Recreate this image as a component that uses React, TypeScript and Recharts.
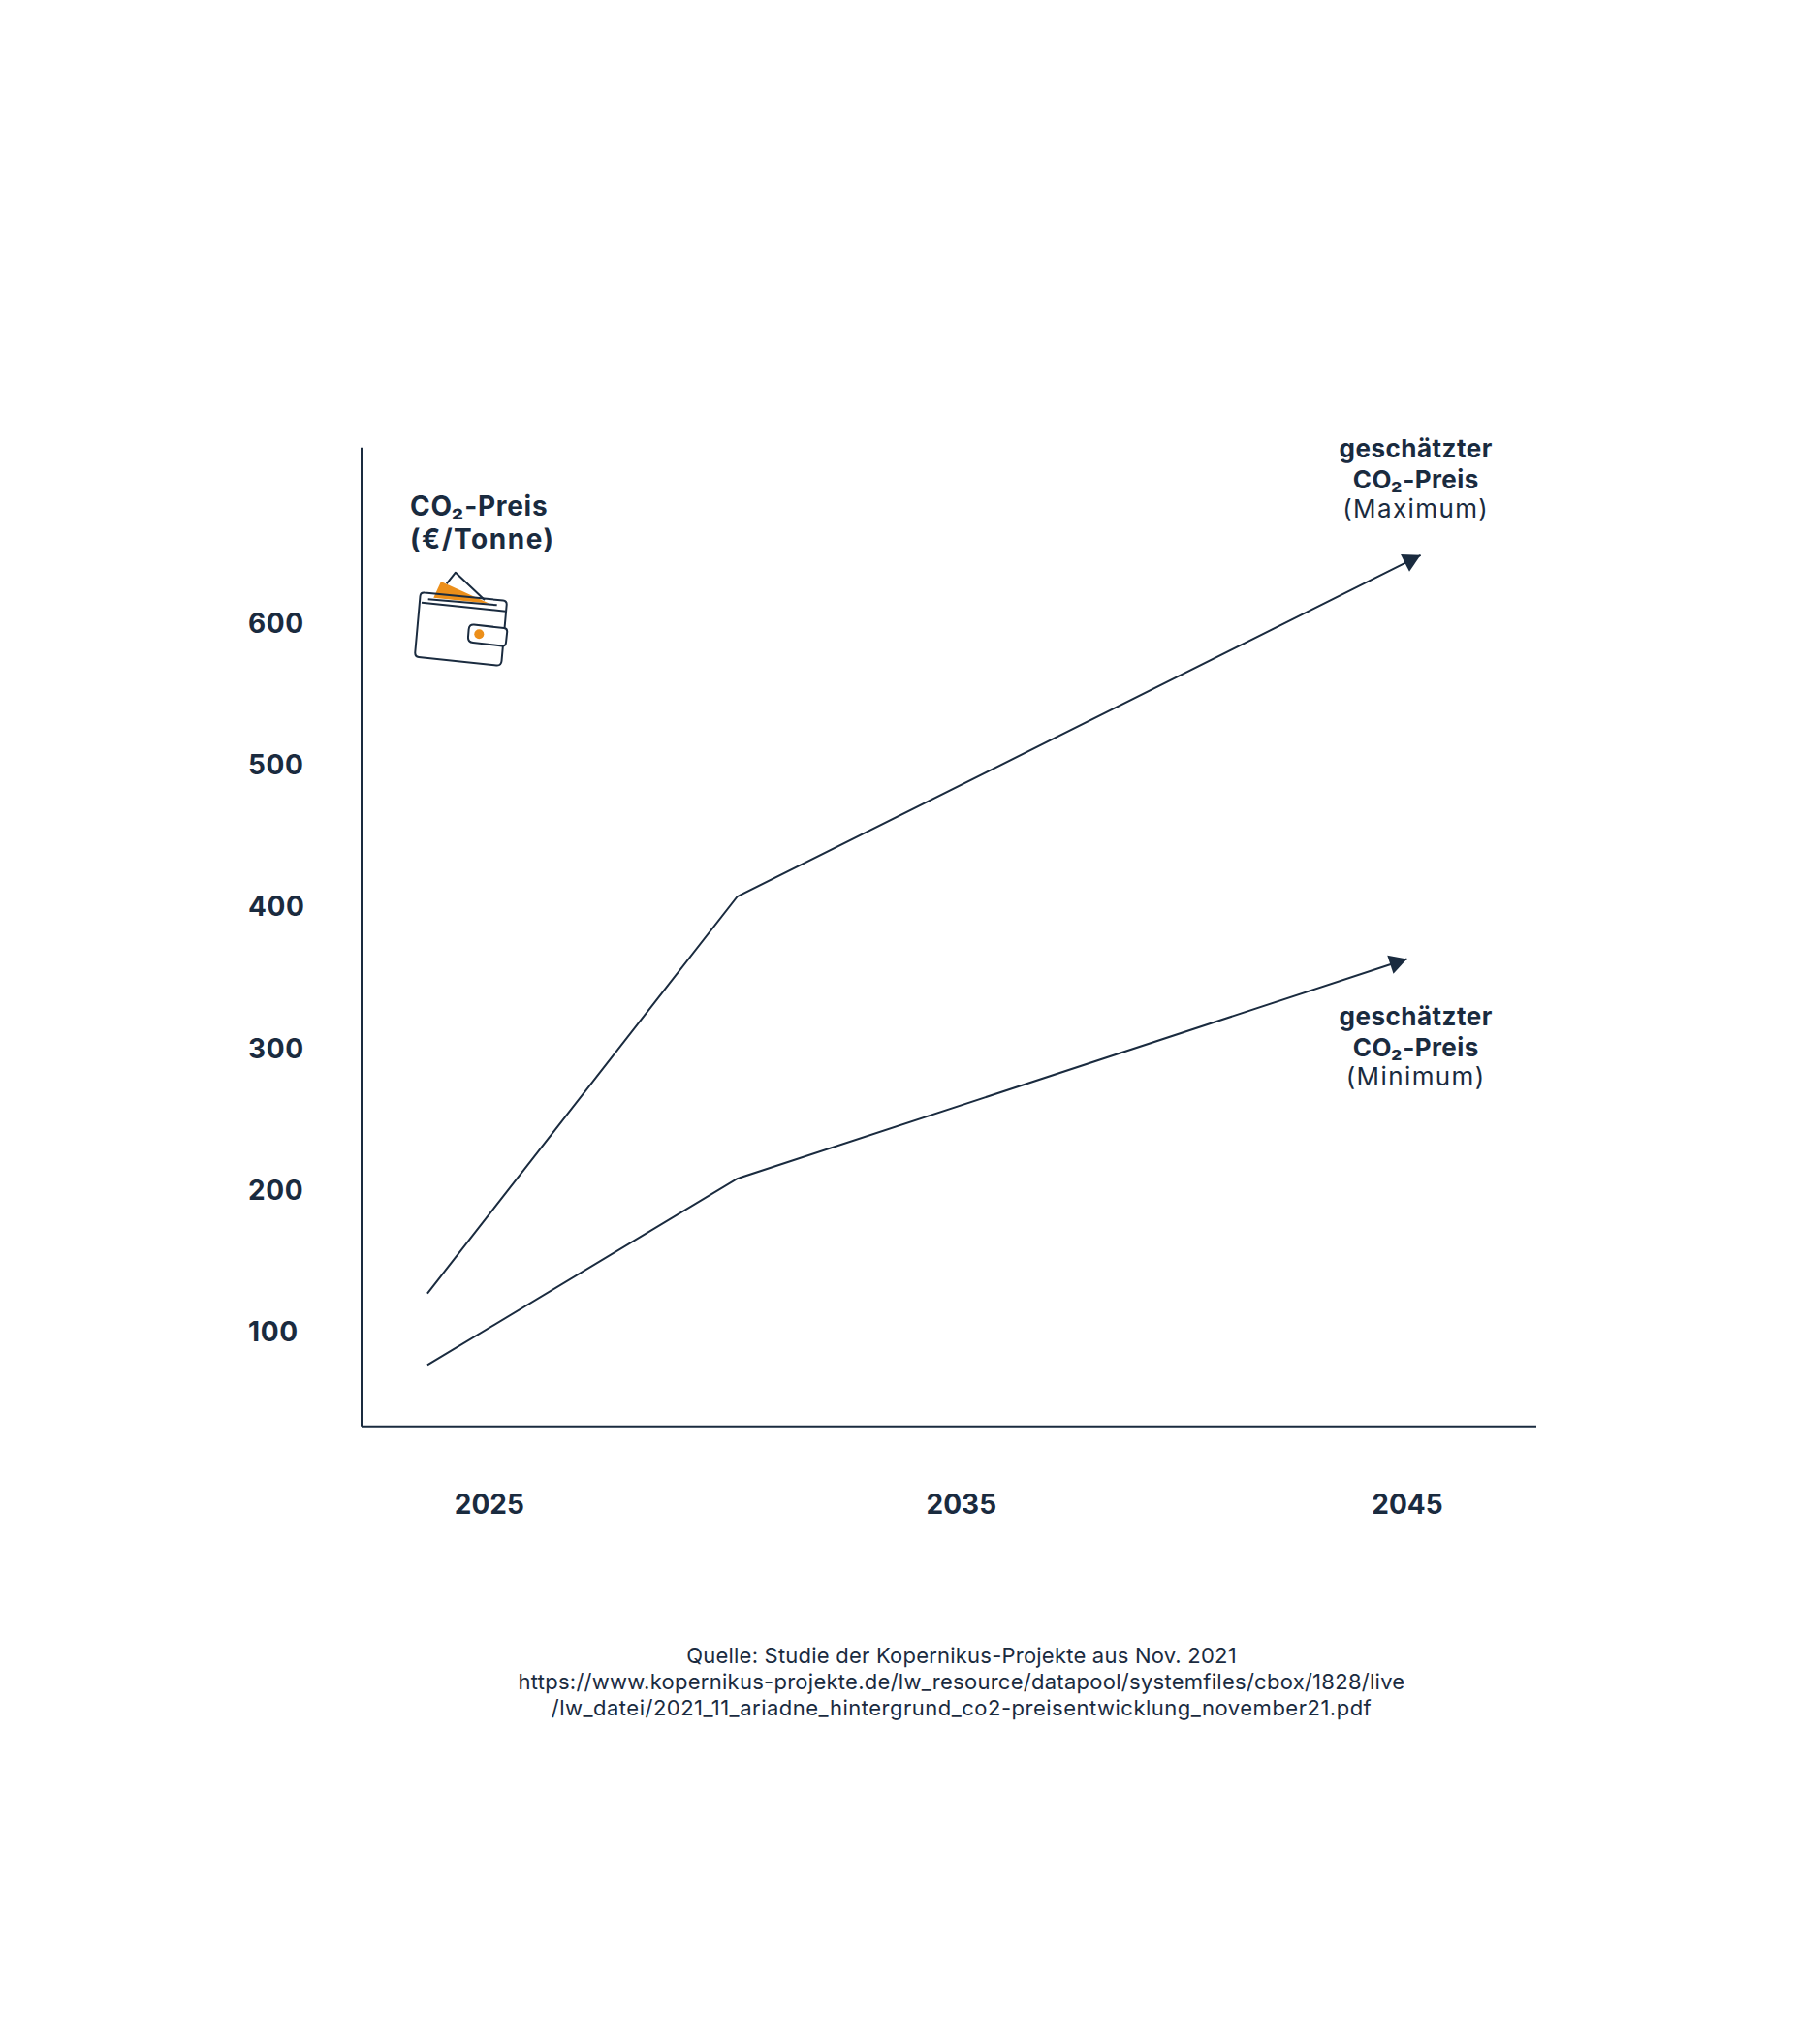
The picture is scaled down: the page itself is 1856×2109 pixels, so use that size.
import React from "react";
import { LineChart, Line, XAxis, YAxis } from "recharts";

const years = [2023.2, 2030, 2044.7, 2045];
const maxPrice = [127, 407, null, 648];
const minPrice = [76.5, 208, 363, null];
const xTickYears = [2024.56, 2034.92, 2044.71];
const yTicks = [100, 200, 300, 400, 500, 600];
const rows = years.map((year, i) => ({ year, max: maxPrice[i], min: minPrice[i] }));

const INK = "#1a2b3f";
const ORANGE = "#ec8f1a";
const FONT = "Inter, 'Noto Sans', sans-serif";

const arrowDot = (lastYear: number, angle: number) => (props: any) => {
  const { cx, cy, payload, index } = props;
  if (payload.year !== lastYear || cy == null) return <g key={index} />;
  return (
    <polygon
      key={index}
      points="0,0 -18,-10 -18,10"
      fill={INK}
      transform={`translate(${cx} ${cy}) rotate(${angle})`}
    />
  );
};

const YTick = (props: any) => (
  <text x={256} y={props.y + 10} fill={INK} fontFamily={FONT} fontWeight={700} fontSize={28} letterSpacing={0.6} textAnchor="start">
    {props.payload.value}
  </text>
);

const XTick = (props: any) => (
  <text x={props.x} y={1561.7} fill={INK} fontFamily={FONT} fontWeight={700} fontSize={28} textAnchor="middle">
    {Math.round(props.payload.value)}
  </text>
);

const Annotation = ({ x, y, bottom }: { x: number; y: number; bottom: string }) => (
  <g fontFamily={FONT} fill={INK} textAnchor="middle" fontSize={26}>
    <text x={x} y={y} fontWeight={700} letterSpacing={0.5}>geschätzter</text>
    <text x={x} y={y + 32} fontWeight={700} letterSpacing={0.4}>CO₂-Preis</text>
    <text x={x} y={y + 62} fontWeight={400} letterSpacing={1.4}>{bottom}</text>
  </g>
);

const Wallet = () => (
  <g>
    <path d="M460.7 602.3 L470 590.7 L500 619" fill="none" stroke={INK} strokeWidth={2} strokeLinejoin="round" />
    <polygon points="447.3,616.7 455,600 505,622.7" fill={ORANGE} />
    <path
      d="M438 611.5 L519 619.5 Q523 620 522.7 624 L517.5 682 Q517 687 512 686.5 L432 678 Q428 677.5 428.3 673 L433.5 615 Q434 611 438 611.5 Z"
      fill="none"
      stroke={INK}
      strokeWidth={2}
    />
    <path d="M441.7 618.3 L512.7 624.3" fill="none" stroke={INK} strokeWidth={2} />
    <path d="M435 621.7 L521.7 630.7" fill="none" stroke={INK} strokeWidth={2} />
    <path
      d="M489 644.5 L520 648 Q523.5 648.4 523.2 652 L522 663 Q521.7 666.8 518 666.4 L488 663 Q482.5 662.5 483 657 L483.6 649.5 Q484 644 489 644.5 Z"
      fill="#fff"
      stroke={INK}
      strokeWidth={2}
    />
    <circle cx={494.3} cy={654.3} r={5} fill={ORANGE} />
  </g>
);

export default function App() {
  return (
    <div style={{ position: "absolute", left: 0, top: 0, width: 1856, height: 2109, background: "#fff" }}>
      <LineChart
        width={1856}
        height={2109}
        data={rows}
        margin={{ top: 461.7, right: 271, bottom: 517.3, left: 256 }}
      >
        <XAxis
          dataKey="year"
          type="number"
          domain={[2021.755, 2047.54]}
          ticks={xTickYears}
          scale="linear"
          allowDataOverflow
          height={120}
          stroke={INK}
          strokeWidth={2}
          tickLine={false}
          tick={XTick}
        />
        <YAxis
          type="number"
          domain={[33.2, 724]}
          ticks={yTicks}
          width={117}
          stroke={INK}
          strokeWidth={2}
          tickLine={false}
          tick={YTick}
        />
        <Line dataKey="max" connectNulls stroke={INK} strokeWidth={2} isAnimationActive={false} dot={arrowDot(2045, -26.6)} activeDot={false} />
        <Line dataKey="min" connectNulls stroke={INK} strokeWidth={2} isAnimationActive={false} dot={arrowDot(2044.7, -18.2)} activeDot={false} />
        <text x={423} y={531.7} fontFamily={FONT} fontWeight={700} fontSize={28} letterSpacing={0.7} fill={INK}>CO₂-Preis</text>
        <text x={423} y={566} fontFamily={FONT} fontWeight={700} fontSize={28} letterSpacing={1.5} fill={INK}>(€/Tonne)</text>
        <Wallet />
        <Annotation x={1460.7} y={471.7} bottom="(Maximum)" />
        <Annotation x={1460.7} y={1058} bottom="(Minimum)" />
        <g fontFamily={FONT} fill={INK} textAnchor="middle" fontSize={22}>
          <text x={992} y={1716} letterSpacing={0.22}>Quelle: Studie der Kopernikus-Projekte aus Nov. 2021</text>
          <text x={992} y={1743} letterSpacing={0.27}>https://www.kopernikus-projekte.de/lw_resource/datapool/systemfiles/cbox/1828/live</text>
          <text x={992} y={1770} letterSpacing={0.5}>/lw_datei/2021_11_ariadne_hintergrund_co2-preisentwicklung_november21.pdf</text>
        </g>
      </LineChart>
    </div>
  );
}
